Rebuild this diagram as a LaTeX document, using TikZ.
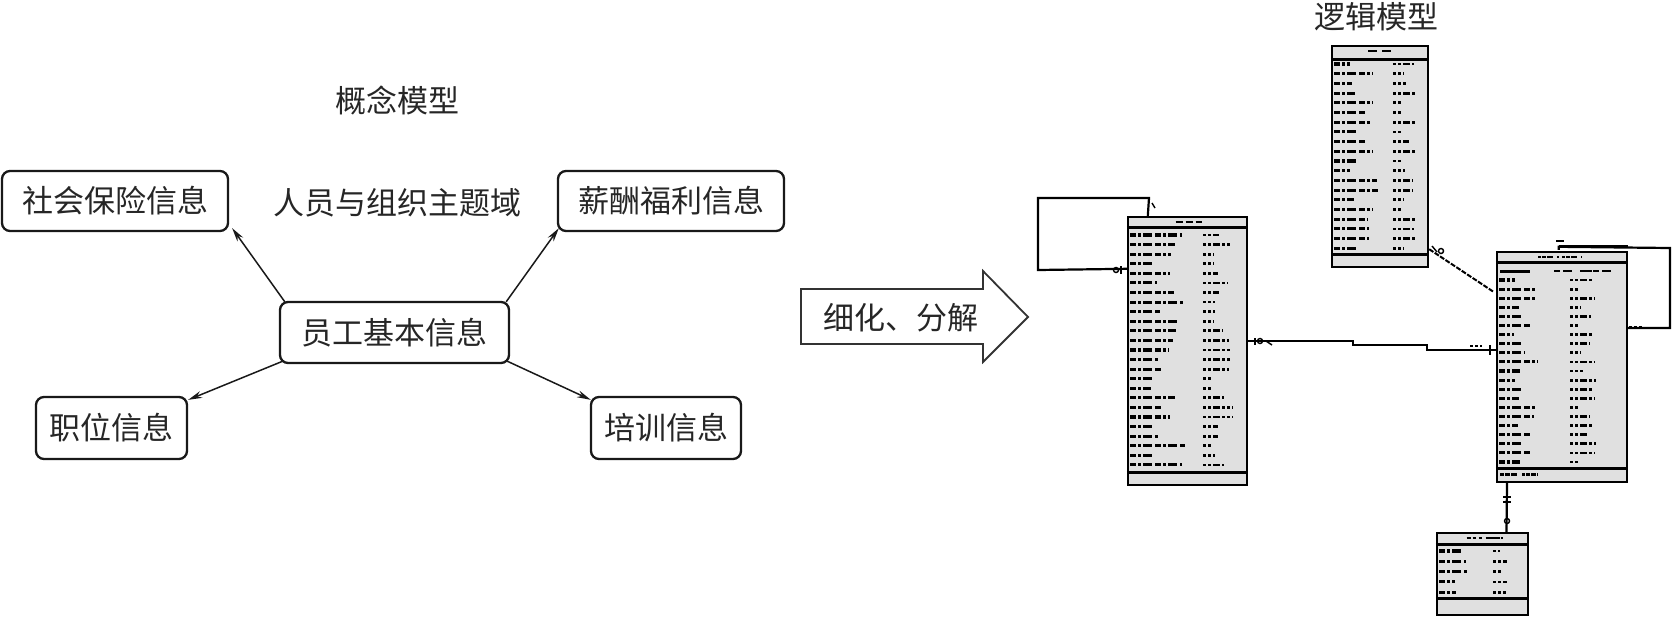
\documentclass[tikz,border=0pt]{standalone}
\usepackage{fontspec}
\newfontfamily\cjk{Noto Sans CJK SC}
\usetikzlibrary{arrows.meta,calc}
\newcommand{\fakerows}[7]{%
  \foreach \k in {1,...,#7}{%
    \pgfmathsetmacro\wa{#2*(0.35+0.65*rnd)}%
    \pgfmathsetmacro\wb{#4*(0.3+0.7*rnd)}%
    \pgfmathsetmacro\yy{#5+(\k-1)*#6}%
    \draw[line width=3.1pt, dash pattern=on 6pt off 2pt on 3pt off 2pt on 9pt off 3pt] (#1,\yy) -- ++(\wa,0);
    \draw[line width=2.8pt, dash pattern=on 3pt off 2pt on 3pt off 2pt on 7pt off 2pt] (#3,\yy) -- ++(\wb,0);
  }}
\begin{document}
\begin{tikzpicture}[x=1pt,y=-1pt,
  cbox/.style={draw=black!90, line width=2.3pt, rounded corners=8pt, inner sep=0pt,
    font=\cjk\fontsize{31}{31}\selectfont, text=black!85},
  lbl/.style={inner sep=0pt, font=\cjk\fontsize{31}{31}\selectfont, text=black!85},
  conn/.style={draw=black!90, line width=1.5pt, -{Stealth[length=14pt,width=7pt]}},
  tbl/.style={draw=black, line width=2.4pt, fill=black!12, inner sep=0pt},
  erline/.style={line width=2.2pt, draw=black},
  bandline/.style={line width=2.8pt, draw=black},
  ermark/.style={line width=1.4pt, draw=black},
]
\useasboundingbox (0,0) rectangle (1672,616);
\pgfmathsetseed{17}

% ---------- conceptual model ----------
\node[lbl] (t1) at (397,101) {概念模型};
\node[lbl] (t2) at (397,203) {人员与组织主题域};
\node[cbox, minimum width=226pt, minimum height=60pt] (sh) at (115,201) {社会保险信息};
\node[cbox, minimum width=226pt, minimum height=60pt] (xc) at (671,201) {薪酬福利信息};
\node[cbox, minimum width=229pt, minimum height=61pt] (yg) at (394.5,332.5) {员工基本信息};
\node[cbox, minimum width=151pt, minimum height=62pt] (zw) at (111.5,428) {职位信息};
\node[cbox, minimum width=150pt, minimum height=62pt] (px) at (666,428) {培训信息};

\draw[conn] ($(yg.north west)+(6,1)$) -- ($(sh.south east)+(3,-4)$);
\draw[conn] ($(yg.north east)+(-4,1)$) -- ($(xc.south west)+(2,-4)$);
\draw[conn] ($(yg.south west)+(4,-3)$) -- ($(zw.north east)+(0,4)$);
\draw[conn] ($(yg.south east)+(-3,-3)$) -- ($(px.north west)+(1,4)$);

% ---------- big arrow ----------
\draw[draw=black!80, line width=1.8pt, fill=white]
  (801,289) -- (983,289) -- (983,271) -- (1028,317) -- (983,362) -- (983,344) -- (801,344) -- cycle;
\node[lbl] (xh) at (901,318) {细化、分解};

% ---------- logical model ----------
\node[lbl] (t3) at (1376,17) {逻辑模型};

% table A
\node[tbl, minimum width=119pt, minimum height=268pt] (ta) at (1187.5,351) {};
\draw[bandline] ($(ta.north west)+(0,12)$) -- ($(ta.north east)+(0,12)$);
\draw[bandline] ($(ta.south west)+(0,-14)$) -- ($(ta.south east)+(0,-14)$);
\draw[line width=2pt, dash pattern=on 7pt off 3pt] ($(ta.north)+(-12,6)$) -- ++(26,0);
\fakerows{1130}{58}{1203}{30}{235}{9.58}{25}

% table B
\node[tbl, minimum width=96pt, minimum height=221pt] (tb) at (1380,156.5) {};
\draw[bandline] ($(tb.north west)+(0,15)$) -- ($(tb.north east)+(0,15)$);
\draw[bandline] ($(tb.south west)+(0,-14)$) -- ($(tb.south east)+(0,-14)$);
\draw[line width=2pt, dash pattern=on 9pt off 5pt] ($(tb.north)+(-12,6)$) -- ++(24,0);
\fakerows{1334}{44}{1393}{24}{64}{9.7}{20}

% table C
\node[tbl, minimum width=130pt, minimum height=230pt] (tc) at (1562,367) {};
\draw[bandline] ($(tc.north west)+(0,12)$) -- ($(tc.north east)+(0,12)$);
\draw[bandline] ($(tc.south west)+(0,-15)$) -- ($(tc.south east)+(0,-15)$);
\draw[line width=2pt, dash pattern=on 3pt off 1pt on 4pt off 1pt on 6pt off 4pt on 2pt off 3pt] ($(tc.north)+(-24,6)$) -- ++(44,0);
\draw[line width=1.5pt] ($(tc.north)+(-6,-10)$) -- ++(8,0);
\draw[line width=3pt] (1500,271) -- ++(30,0);
\draw[line width=2.8pt, dash pattern=on 6pt off 3pt on 9pt off 8pt on 12pt off 1pt] (1554,271) -- ++(63,0);
\fakerows{1499}{40}{1570}{26}{280}{9.1}{21}
\draw[line width=3pt, dash pattern=on 4pt off 1pt on 5pt off 1pt on 6pt off 5pt on 3pt off 1pt] (1500,474) -- ++(38,0);

% table D
\node[tbl, minimum width=91pt, minimum height=82pt] (td) at (1482.5,574) {};
\draw[bandline] ($(td.north west)+(0,13)$) -- ($(td.north east)+(0,13)$);
\draw[bandline] ($(td.south west)+(0,-18)$) -- ($(td.south east)+(0,-18)$);
\draw[line width=2pt, dash pattern=on 4pt off 2pt on 3pt off 3pt on 3pt off 4pt on 14pt off 1pt] ($(td.north)+(-16,6)$) -- ++(36,0);
\fakerows{1439}{32}{1493}{22}{551}{10.3}{5}

% self loop on A
\coordinate (la1) at (1149,198);
\coordinate (la2) at (1038,270);
\draw[erline] ($(ta.north west)+(21,0)$) -- (la1) -| (la2) -- ($(ta.north west)+(0,53)$);
\draw[ermark] (1152,203) -- (1155,208);
\draw[ermark] (1116,270) circle (2.5pt);
\draw[ermark] (1121,266) -- (1121,274);

% A -> C
\coordinate (ac1) at (1353,341);
\coordinate (ac2) at (1427,345);
\draw[erline] ($(ta.east)+(0,-10)$) -- (ac1) |- (ac2) |- ($(tc.west)+(0,-17)$);
\draw[ermark] (1255,338) -- (1255,345);
\draw[ermark] (1260,341) circle (2.5pt);
\draw[ermark] (1266,341) -- (1272,345);
\draw[ermark] (1490,345) -- (1490,355);
\draw[line width=1.4pt, dash pattern=on 3pt off 2pt] (1470,346) -- ++(12,0);

% B -> C
\draw[line width=2pt, dash pattern=on 5pt off 1.5pt] ($(tb.south east)+(0,-19)$) -- ($(tc.west)+(-2,-75)$);
\draw[ermark] (1432,246) -- (1437,252);
\draw[ermark] (1441,251) circle (2.5pt);

% C -> D
\draw[erline] ($(tc.south)+(-55,0)$) -- ($(td.north)+(24,0)$);
\draw[ermark] (1503,497) -- (1511,497);
\draw[ermark] (1503,502) -- (1511,502);
\draw[ermark] (1507,521) circle (2.5pt);

% self loop on C
\coordinate (lc1) at (1670,248);
\coordinate (lc2) at (1670,328);
\draw[erline] ($(tc.north west)+(63,-1)$) -- ($(tc.north west)+(63,-4)$) -- (lc1) -- (lc2) -- ($(tc.east)+(0,-39)$);
\draw[line width=3pt] ($(tc.north west)+(63,-4)$) -- ($(tc.north east)+(0,-4)$);
\draw[line width=1.5pt, dash pattern=on 3pt off 2pt] (1629,327) -- ++(14,0);
\end{tikzpicture}
\end{document}
